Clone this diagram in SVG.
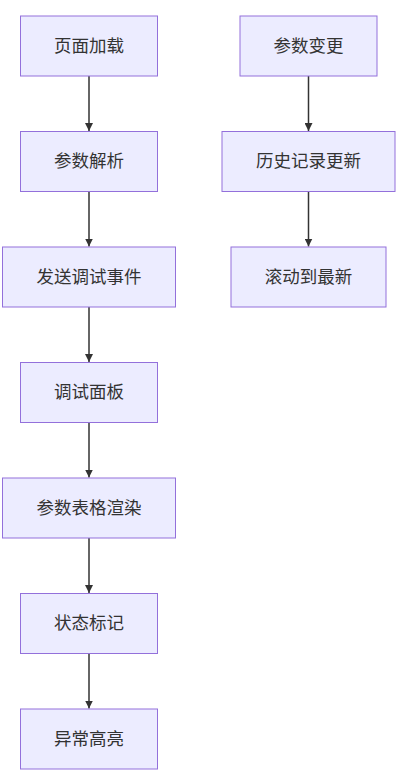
<svg xmlns="http://www.w3.org/2000/svg" width="408" height="782" viewBox="0 0 408 782">
<defs>
<marker id="arrow" viewBox="0 0 10 10" refX="10" refY="5" markerWidth="8" markerHeight="8" markerUnits="userSpaceOnUse" orient="auto"><path d="M0,0 L10,5 L0,10 z" fill="#333333"/></marker>
<style>
.node rect{fill:#ECECFF;stroke:#9370DB;stroke-width:1}
.node text{font-family:"Liberation Sans","Noto Sans CJK SC",sans-serif;font-size:17.5px;fill:#333333;text-anchor:middle;dominant-baseline:central}
.edge{stroke:#333333;stroke-width:1.5;fill:none;marker-end:url(#arrow)}
</style>
</defs>
<rect width="408" height="782" fill="#ffffff"/>
<g id="connectors">
<path class="edge" d="M89,76 V131"/>
<path class="edge" d="M89,191.5 V246.5"/>
<path class="edge" d="M89,307 V362"/>
<path class="edge" d="M89,422.5 V477.5"/>
<path class="edge" d="M89,538 V593"/>
<path class="edge" d="M89,653.5 V708.5"/>
<path class="edge" d="M308.5,76 V131"/>
<path class="edge" d="M308.5,191.5 V246.5"/>
</g>
<g id="n1" class="node"><rect x="20.5" y="16" width="137" height="60"/><text x="89" y="45.5">页面加载</text></g>
<g id="n2" class="node"><rect x="20.5" y="131.5" width="137" height="60"/><text x="89" y="161">参数解析</text></g>
<g id="n3" class="node"><rect x="2.5" y="247" width="173" height="60"/><text x="89" y="276.5">发送调试事件</text></g>
<g id="n4" class="node"><rect x="20.5" y="362.5" width="137" height="60"/><text x="89" y="392">调试面板</text></g>
<g id="n5" class="node"><rect x="2.5" y="478" width="173" height="60"/><text x="89" y="507.5">参数表格渲染</text></g>
<g id="n6" class="node"><rect x="20.5" y="593.5" width="137" height="60"/><text x="89" y="623">状态标记</text></g>
<g id="n7" class="node"><rect x="20.5" y="709" width="137" height="60"/><text x="89" y="738.5">异常高亮</text></g>
<g id="n8" class="node"><rect x="240" y="16" width="137" height="60"/><text x="308.5" y="45.5">参数变更</text></g>
<g id="n9" class="node"><rect x="222" y="131.5" width="173" height="60"/><text x="308.5" y="161">历史记录更新</text></g>
<g id="n10" class="node"><rect x="231" y="247" width="155" height="60"/><text x="308.5" y="276.5">滚动到最新</text></g>
</svg>
